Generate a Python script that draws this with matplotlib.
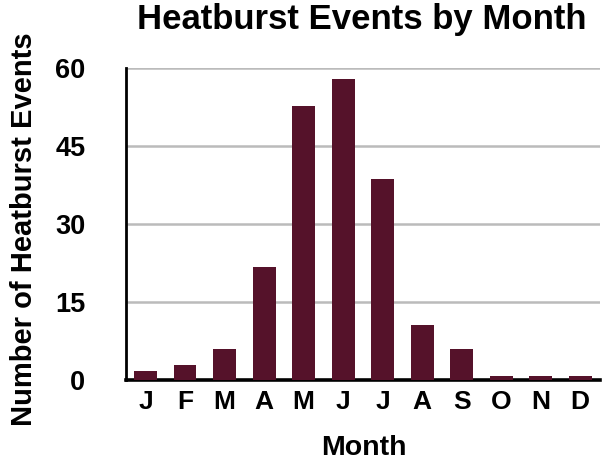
import matplotlib
matplotlib.use("Agg")
import matplotlib.pyplot as plt
import numpy as np

months = ["J", "F", "M", "A", "M", "J", "J", "A", "S", "O", "N", "D"]
events = [1.8, 2.9, 5.9, 21.8, 52.6, 57.8, 38.7, 10.6, 5.9, 0.8, 0.8, 0.8]
yticks = [0, 15, 30, 45, 60]

plt.rcParams['font.family'] = ['Liberation Sans', 'DejaVu Sans']
plt.rcParams['font.weight'] = 'bold'

fig = plt.figure(figsize=(6.05, 4.61), dpi=100)
ax = fig.add_axes([0.2078, 0.1757, 0.7839, 0.6768])

x = np.arange(len(months))
ax.bar(x, events, width=0.58, color="#55122A", zorder=3)

ax.set_xlim(-0.5, 11.5)
ax.set_ylim(0, 60)
ax.set_yticks(yticks)
ax.set_yticklabels([str(t) for t in yticks])
ax.set_xticks(x)
ax.set_xticklabels(months)
ax.yaxis.grid(True, color="#BBBBBB", linewidth=1.8, zorder=0)
ax.set_axisbelow(True)

for s in ["top", "right"]:
    ax.spines[s].set_visible(False)
ax.spines["left"].set_linewidth(2.0)
ax.spines["left"].set_color("black")
ax.spines["bottom"].set_linewidth(2.6)
ax.spines["bottom"].set_color("black")

ax.tick_params(axis="y", length=0, pad=29, labelsize=19.5)
ax.tick_params(axis="x", length=0, pad=7, labelsize=19)
for lab in ax.get_xticklabels() + ax.get_yticklabels():
    lab.set_fontweight("bold")

fig.text(0.5975, 1 - 29 / 461, "Heatburst Events by Month", ha="center",
         va="baseline", fontsize=25, fontweight="bold")
fig.text(364 / 605, 6 / 461, "Month", ha="center", va="baseline",
         fontsize=20.5, fontweight="bold")
fig.text(24 / 605, 1 - 229.5 / 461, "Number of Heatburst Events", ha="center",
         va="center", rotation=90, fontsize=21, fontweight="bold")

fig.savefig("out.png", dpi=100)
